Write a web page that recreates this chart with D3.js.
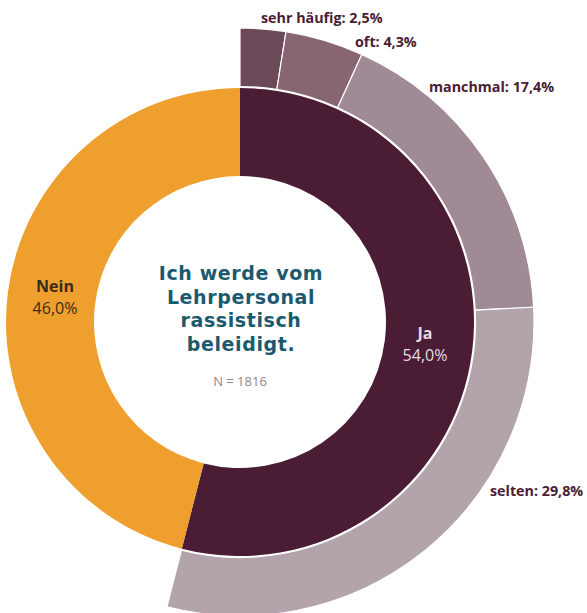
<!DOCTYPE html>
<html><head><meta charset="utf-8">
<script src="https://cdn.jsdelivr.net/npm/d3@7"></script>
<style>html,body{margin:0;padding:0;background:#fff;}svg{display:block;}</style>
</head><body>
<svg id="c" width="587" height="613"></svg>
<script>
const mainCats = ["Ja", "Nein"];
const mainValues = [54.0, 46.0];
const mainColors = ["#4a1d35", "#ef9f2e"];
const subCats = ["sehr häufig", "oft", "manchmal", "selten"];
const subValues = [2.5, 4.3, 17.4, 29.8];
const subColors = ["#6b4959", "#876672", "#a08a95", "#b3a4ab"];
const titleLines = ["Ich werde vom", "Lehrpersonal", "rassistisch", "beleidigt."];
const nLabel = "N = 1816";

const svg = d3.select("#c");
const cx = 240, cy = 322;
const g = svg.append("g").attr("transform", `translate(${cx},${cy})`);

const rIn = 146, rMid = 234, rOut2 = 294;
const angle = d3.scaleLinear().domain([0, 100]).range([0, 2 * Math.PI]);

const pie = d3.pie().sort(null).value(d => d).startAngle(0).endAngle(2 * Math.PI);
const mainArcs = pie(mainValues);
const arcMain = d3.arc().innerRadius(rIn).outerRadius(rMid);
g.selectAll("path.main").data(mainArcs).join("path")
  .attr("class", "main").attr("d", arcMain)
  .attr("fill", (d, i) => mainColors[i]);

const subTotal = d3.sum(subValues);
const subPie = d3.pie().sort(null).value(d => d).startAngle(0).endAngle(angle(subTotal));
const subArcs = subPie(subValues);
const arcSub = d3.arc().innerRadius(rMid + 1.5).outerRadius(rOut2);
g.selectAll("path.sub").data(subArcs).join("path")
  .attr("class", "sub").attr("d", arcSub)
  .attr("fill", (d, i) => subColors[i])
  .attr("stroke", "#fff").attr("stroke-width", 1.2);

// sub labels
const subLabelPos = [[261, 23], [355, 47], [429, 92], [490, 496]];
svg.selectAll("text.sub").data(subCats).join("text")
  .attr("class", "sub")
  .attr("x", (d, i) => subLabelPos[i][0]).attr("y", (d, i) => subLabelPos[i][1])
  .attr("font-family", "'Open Sans', sans-serif").attr("font-weight", 700)
  .attr("font-size", 14.3).attr("fill", "#4a1d35")
  .text((d, i) => `${d}: ${subValues[i].toFixed(1).replace(".", ",")}%`);

// main labels
const mainLabelPos = [[425, 339], [55, 292]];
const mainTextColors = ["#e6dce1", "#3a2a1a"];
mainCats.forEach((c, i) => {
  const t = svg.append("text").attr("text-anchor", "middle")
    .attr("font-family", "'Open Sans', sans-serif").attr("fill", mainTextColors[i]);
  t.append("tspan").attr("x", mainLabelPos[i][0]).attr("y", mainLabelPos[i][1])
    .attr("font-weight", 700).attr("font-size", 16).text(c);
  t.append("tspan").attr("x", mainLabelPos[i][0]).attr("y", mainLabelPos[i][1] + 22)
    .attr("font-size", 16).text(mainValues[i].toFixed(1).replace(".", ",") + "%");
});

// title
svg.selectAll("text.title").data(titleLines).join("text")
  .attr("class", "title").attr("text-anchor", "middle")
  .attr("x", 241).attr("y", (d, i) => 280 + i * 23.5)
  .attr("font-family", "'DejaVu Sans', sans-serif").attr("font-weight", 700)
  .attr("font-size", 19).attr("fill", "#1b5a6e").attr("letter-spacing", 0.6)
  .text(d => d);

svg.append("text").attr("text-anchor", "middle").attr("x", 240).attr("y", 386)
  .attr("font-family", "'Open Sans', sans-serif").attr("font-size", 13)
  .attr("fill", "#8a8a8a").text(nLabel);
</script>
</body></html>
